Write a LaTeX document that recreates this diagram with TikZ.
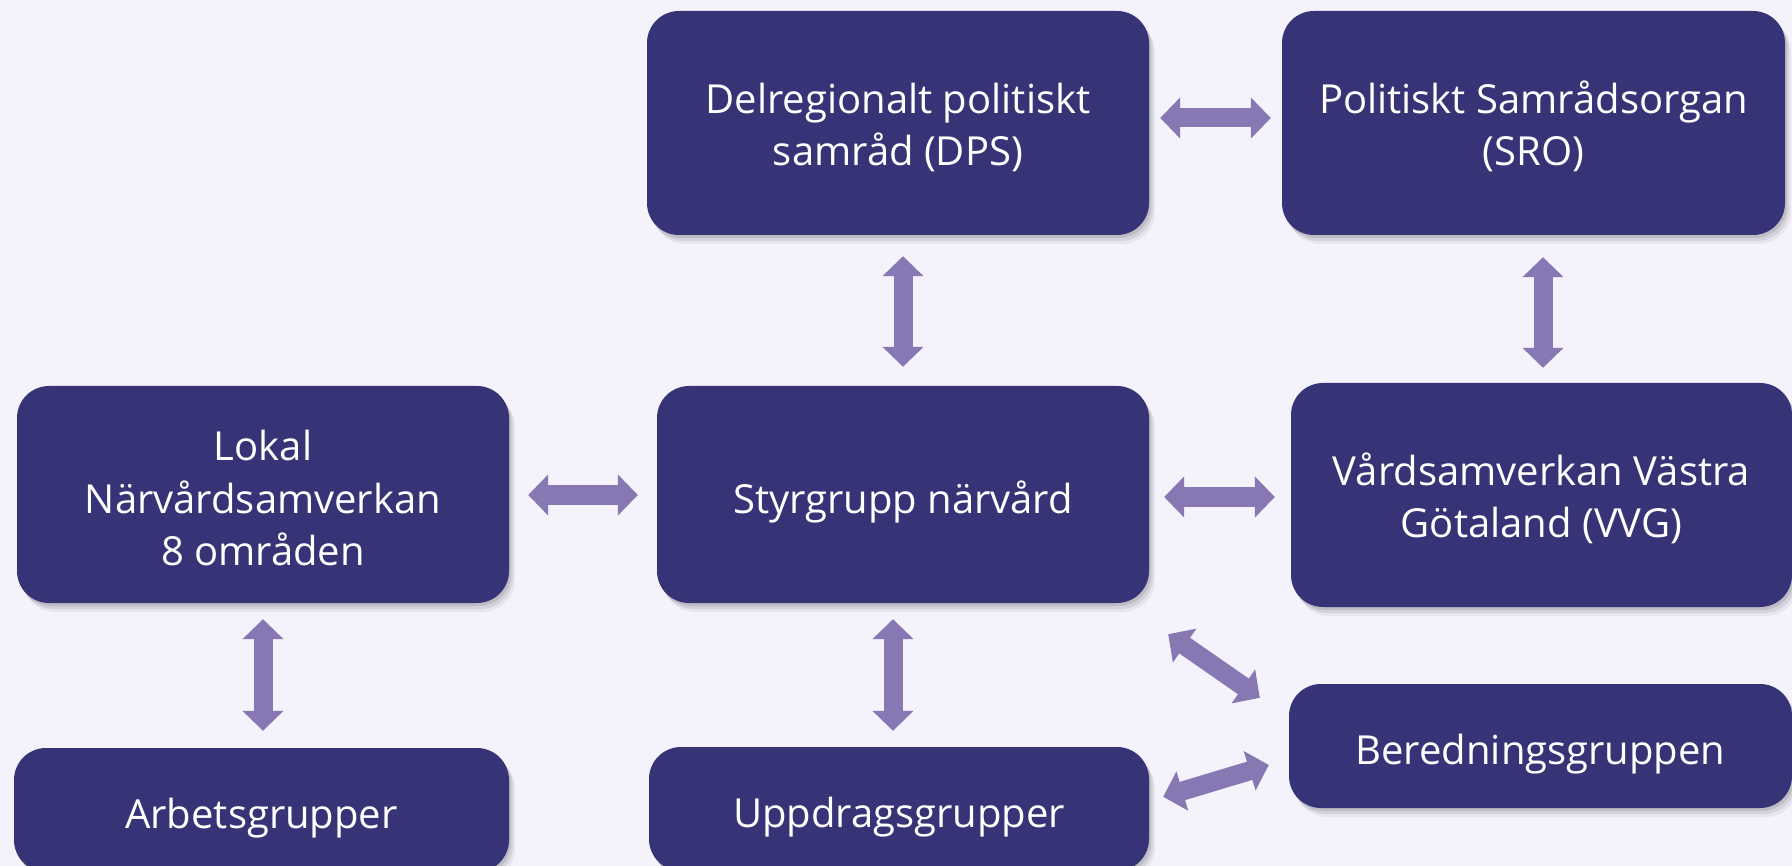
\documentclass[tikz,border=0pt]{standalone}
\usepackage{fontspec}
\setmainfont{Open Sans}
\usetikzlibrary{arrows.meta,shadows}
\definecolor{bgc}{HTML}{F4F2FB}
\definecolor{boxc}{HTML}{363377}
\definecolor{arrc}{HTML}{8777B3}
\newcommand\boxlines[2]{\raisebox{-#1}[\height][\depth]{\begin{tabular}{@{}c@{}}#2\end{tabular}}}
\begin{document}
\begin{tikzpicture}[x=1pt,y=-1pt,
  orgbox/.style={rectangle, rounded corners=32pt, fill=boxc, text=white,
    inner sep=0pt, align=center,
    font=\fontsize{40}{52.5}\selectfont,
    drop shadow={shadow xshift=2pt, shadow yshift=-3pt, opacity=0.10, fill=black},
    drop shadow={shadow xshift=4pt, shadow yshift=-6pt, opacity=0.08, fill=black},
    drop shadow={shadow xshift=6pt, shadow yshift=-9pt, opacity=0.05, fill=black}},
  conn/.style={draw=arrc, line width=19pt,
    {Triangle[width=40pt,length=20pt]}-{Triangle[width=40pt,length=20pt]}}
]
\useasboundingbox[fill=bgc] (0,0) rectangle (1792,866);

\node[orgbox, minimum width=502pt, minimum height=224pt] (dps) at (898,123)
  {\boxlines{6pt}{Delregionalt politiskt\\samråd (DPS)}};
\node[orgbox, minimum width=503pt, minimum height=224pt] (sro) at (1533.5,123)
  {\boxlines{6pt}{Politiskt Samrådsorgan\\(SRO)}};
\node[orgbox, minimum width=492pt, minimum height=217pt] (lokal) at (263,494.5)
  {\boxlines{8pt}{Lokal\\Närvårdsamverkan\\8 områden}};
\node[orgbox, minimum width=492pt, minimum height=217pt] (styr) at (903,494.5)
  {\boxlines{8pt}{Styrgrupp närvård}};
\node[orgbox, minimum width=501pt, minimum height=224pt] (vvg) at (1541.5,495)
  {\boxlines{6pt}{Vårdsamverkan Västra\\Götaland (VVG)}};
\node[orgbox, minimum width=495pt, minimum height=124pt] (arb) at (261.5,810)
  {\boxlines{8pt}{Arbetsgrupper}};
\node[orgbox, minimum width=500pt, minimum height=124pt] (upp) at (899,809)
  {\boxlines{8pt}{Uppdragsgrupper}};
\node[orgbox, minimum width=503pt, minimum height=124pt] (ber) at (1540.5,746)
  {\boxlines{8pt}{Beredningsgruppen}};

\draw[conn, shorten <=11pt, shorten >=11pt] ([yshift=5pt]dps.east) -- ([yshift=5pt]sro.west);
\draw[conn, shorten <=21pt, shorten >=19pt] (dps.south -| styr.north) -- (styr.north);
\draw[conn, shorten <=22pt, shorten >=15pt] ([xshift=1.5pt]vvg.north |- sro.south) -- ([xshift=1.5pt]vvg.north);
\draw[conn, shorten <=19pt, shorten >=19pt] ([yshift=-0.5pt]lokal.east) -- ([yshift=-0.5pt]styr.west);
\draw[conn, shorten <=15pt, shorten >=16pt] ([yshift=-2.5pt]styr.east) -- ([yshift=-2.5pt]styr.east -| vvg.west);
\draw[conn, shorten <=16pt, shorten >=17pt] (lokal.south) -- (lokal.south |- arb.north);
\draw[conn, shorten <=16pt, shorten >=16pt] ([xshift=-10pt]styr.south) -- ([xshift=-10pt]styr.south |- upp.north);
\draw[conn] ([shift={(19,31)}]styr.south east) -- ([shift={(-29,14)}]ber.north west);
\draw[conn] ([shift={(14,50)}]upp.north east) -- ([shift={(-20,19)}]ber.west);
\end{tikzpicture}
\end{document}
